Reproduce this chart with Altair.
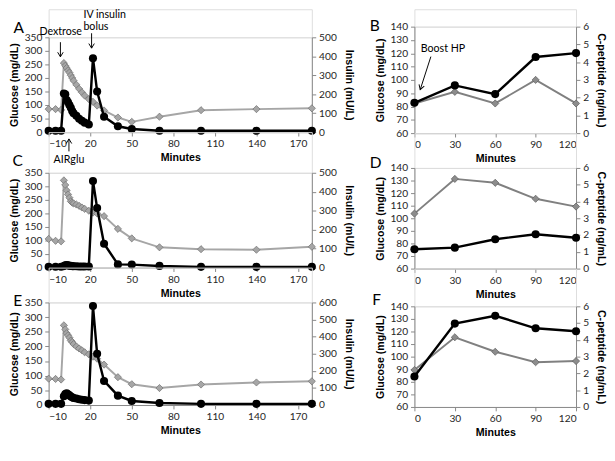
import altair as alt
import pandas as pd

# ---------------- data ----------------
t_left = [-10, -5, -1, 1, 2, 3, 4, 5, 6, 7, 8, 10, 12, 14, 16, 19, 22, 25, 30, 40, 50, 70, 100, 140, 180]
glu_A = [85, 85, 82, 255, 245, 237, 228, 220, 210, 200, 190, 175, 160, 147, 135, 122, 112, 98, 80, 54, 38, 57, 81, 85, 88]
ins_A = [7, 7, 7, 204, 200, 169, 157, 143, 129, 111, 100, 86, 71, 60, 50, 40, 390, 214, 81, 31, 17, 7, 7, 7, 7]
glu_C = [106, 99, 97, 322, 305, 285, 270, 258, 245, 240, 237, 233, 228, 222, 217, 210, 203, 200, 190, 143, 108, 75, 68, 66, 77]
ins_C = [5, 5, 5, 8, 12, 14, 12, 10, 9, 8, 7, 7, 6, 6, 6, 6, 457, 314, 126, 17, 16, 9, 4, 4, 4]
glu_E = [90, 89, 87, 272, 258, 245, 238, 230, 220, 215, 208, 200, 193, 187, 180, 173, 165, 158, 138, 95, 71, 58, 70, 77, 81]
ins_E = [7, 7, 7, 51, 65, 69, 63, 57, 50, 45, 41, 38, 34, 31, 29, 26, 579, 300, 141, 55, 24, 12, 7, 7, 7]

t_right = [0, 30, 60, 90, 120]
glu_B = [82.3, 91, 82.3, 100, 82.3]
cpep_B = [1.71, 2.69, 2.20, 4.29, 4.51]
glu_D = [103.7, 131.3, 128.2, 115.5, 109.3]
cpep_D = [1.15, 1.25, 1.75, 2.05, 1.84]
glu_F = [89.4, 115.4, 103.9, 95.6, 96.5]
cpep_F = [1.82, 4.97, 5.44, 4.69, 4.51]

left_ticks_x = [-10, 20, 50, 80, 110, 140, 170]
right_ticks_x = [0, 30, 60, 90, 120]

# annotation texts
dex_label = ["Dextrose"]
bolus_label = ["IV insulin", "bolus"]
air_label = ["AIRglu"]
boost_label = ["Boost HP"]

LBL = "Lato"
TTL = "Liberation Sans"
AX_GRAY = "#868686"


def ax(**kw):
    return alt.Axis(grid=False, domainColor=AX_GRAY, tickColor=AX_GRAY, tickSize=4,
                    labelFont=LBL, labelFontSize=10.5, labelColor="#262626",
                    titleFont=TTL, titleFontSize=11, titleFontWeight="bold",
                    titleColor="#000000", labelPadding=3, **kw)


def spacer(h, w):
    return alt.Chart(pd.DataFrame({"z": [0]})).mark_point(opacity=0, size=1).encode(
        x=alt.value(w / 2), y=alt.value(h / 2)).properties(width=w, height=h)


def letter_layer(letter, dx, dy):
    return alt.Chart(pd.DataFrame({"lbl": [letter]})).mark_text(
        font=LBL, fontSize=16, align="center", baseline="middle", color="#000"
    ).encode(text="lbl:N", x=alt.value(dx), y=alt.value(dy))


def arrow(ts, y_tail, y_tip, X, Y, down=True, t_tip=None, angle=0):
    tip_t = t_tip if t_tip is not None else ts
    df = pd.DataFrame({"t": ts, "glu": y_tail, "glu2": y_tip, "t2": tip_t})
    shaft = alt.Chart(df).mark_rule(color="#000", strokeWidth=1).encode(
        x=alt.X("t:Q", scale=X[0], axis=X[1]), x2="t2:Q",
        y=alt.Y("glu:Q", scale=Y[0], axis=Y[1]), y2="glu2:Q")
    path = "M-0.6,-1L0,0L0.6,-1" if down else "M-0.6,1L0,0L0.6,1"
    head = alt.Chart(pd.DataFrame({"t": tip_t, "glu": y_tip})).mark_point(
        shape=path, filled=False, size=90, color="#000", strokeWidth=1, opacity=1, angle=angle
    ).encode(x=alt.X("t:Q", scale=X[0], axis=X[1]),
             y=alt.Y("glu:Q", scale=Y[0], axis=Y[1]))
    return [shaft, head]


def text_layer(labels, ts, ys, X, Y, align="center"):
    df = pd.DataFrame({"lab": labels, "t": ts, "glu": ys})
    return alt.Chart(df).mark_text(font=LBL, fontSize=11, align=align, baseline="middle",
                                   color="#000").encode(
        text="lab:N", x=alt.X("t:Q", scale=X[0], axis=X[1]),
        y=alt.Y("glu:Q", scale=Y[0], axis=Y[1]))


def left_panel(glu, ins, ins_max, h, letter, ldx, ldy, annotated=False):
    df = pd.DataFrame({"t": t_left, "glu": glu, "ins": ins})
    xs = alt.Scale(domain=[-10, 180], nice=False, zero=False)
    ys = alt.Scale(domain=[0, 350], nice=False)
    xa = ax(values=left_ticks_x, title="Minutes", titlePadding=3)
    ya = ax(values=list(range(0, 351, 50)), title="Glucose (mg/dL)", titlePadding=5)
    xenc = alt.X("t:Q", scale=xs, axis=xa)
    yg = alt.Y("glu:Q", scale=ys, axis=ya)
    yi = alt.Y("ins:Q", scale=alt.Scale(domain=[0, ins_max], nice=False),
               axis=ax(orient="right", values=list(range(0, ins_max + 1, 100)),
                       title="Insulin (mU/L)", titlePadding=7))
    base = alt.Chart(df)
    g_line = base.mark_line(color="#a6a6a6", strokeWidth=2).encode(x=xenc, y=yg)
    g_pts = base.mark_point(shape="diamond", filled=True, size=55, fill="#a6a6a6",
                            stroke="#6e6e6e", strokeWidth=0.7, opacity=1).encode(x=xenc, y=yg)
    glayers = [g_line, g_pts, letter_layer(letter, ldx, ldy)]
    if annotated:
        X = (xs, xa)
        Y = (ys, ya)
        glayers += arrow([-1.5, 21], [332, 365], [278, 310], X, Y, down=True)
        glayers += arrow([4.65], [-71], [-25], X, Y, down=False)
        glayers.append(text_layer(dex_label, [-1.3], [368], X, Y))
        glayers.append(text_layer(bolus_label, [15.1, 15.1], [433, 387], X, Y, align="left"))
        glayers.append(text_layer(air_label, [4.65], [-104], X, Y))
    i_line = base.mark_line(color="#000", strokeWidth=2.5).encode(x=xenc, y=yi)
    i_pts = base.mark_circle(color="#000", size=70, opacity=1).encode(x=xenc, y=yi)
    return alt.layer(alt.layer(*glayers), alt.layer(i_line, i_pts)).resolve_scale(
        y="independent").properties(width=272, height=h)


def right_panel(glu, cp, h, letter, ldx, ldy, annotated=False):
    df = pd.DataFrame({"t": t_right, "glu": glu, "cp": cp})
    xs = alt.Scale(domain=[0, 120], nice=False, zero=False)
    ys = alt.Scale(domain=[60, 140], nice=False, zero=False)
    xa = ax(values=right_ticks_x, title="Minutes", titlePadding=3)
    ya = ax(values=list(range(60, 141, 10)), title="Glucose (mg/dL)", titlePadding=5)
    xenc = alt.X("t:Q", scale=xs, axis=xa)
    yg = alt.Y("glu:Q", scale=ys, axis=ya)
    yc = alt.Y("cp:Q", scale=alt.Scale(domain=[0, 6], nice=False),
               axis=ax(orient="right", values=list(range(0, 7)),
                       title="C-petptide (ng/mL)", titlePadding=7))
    base = alt.Chart(df)
    g_line = base.mark_line(color="#808080", strokeWidth=2).encode(x=xenc, y=yg)
    g_pts = base.mark_point(shape="diamond", filled=True, size=55, fill="#8c8c8c",
                            stroke="#5a5a5a", strokeWidth=0.7, opacity=1).encode(x=xenc, y=yg)
    glayers = [g_line, g_pts, letter_layer(letter, ldx, ldy)]
    if annotated:
        X = (xs, xa)
        Y = (ys, ya)
        glayers += arrow([12.2], [117.5], [92.7], X, Y, down=True, t_tip=[4.3], angle=18)
        glayers.append(text_layer(boost_label, [21.2], [123.3], X, Y))
    c_line = base.mark_line(color="#000", strokeWidth=2.5).encode(x=xenc, y=yc)
    c_pts = base.mark_circle(color="#000", size=70, opacity=1).encode(x=xenc, y=yc)
    return alt.layer(alt.layer(*glayers), alt.layer(c_line, c_pts)).resolve_scale(
        y="independent").properties(width=167, height=h)


pA = left_panel(glu_A, ins_A, 500, 98, "A", -31, -9, annotated=True)
pC = left_panel(glu_C, ins_C, 500, 98, "C", -32, -12)
pE = left_panel(glu_E, ins_E, 600, 106, "E", -32, -1)
pB = right_panel(glu_B, cpep_B, 110, "B", -41, -1, annotated=True)
pD = right_panel(glu_D, cpep_D, 104, "D", -40, -5)
pF = right_panel(glu_F, cpep_F, 104, "F", -39, -6)

colL = alt.vconcat(spacer(29, 272), pA, spacer(42, 272), pC, spacer(36, 272), pE,
                   spacing=0, bounds="flush")
colR = alt.vconcat(spacer(18, 167), pB, spacer(36, 167), pD, spacer(39, 167), pF,
                   spacing=0, bounds="flush")

chart = alt.hconcat(colL, colR, spacing=15).properties(
    padding={"top": -7, "left": 0, "right": 0, "bottom": 0}
).configure_view(strokeWidth=0).configure(background="#ffffff")

chart.save("out.html", embed_options={"renderer": "svg", "actions": False})
